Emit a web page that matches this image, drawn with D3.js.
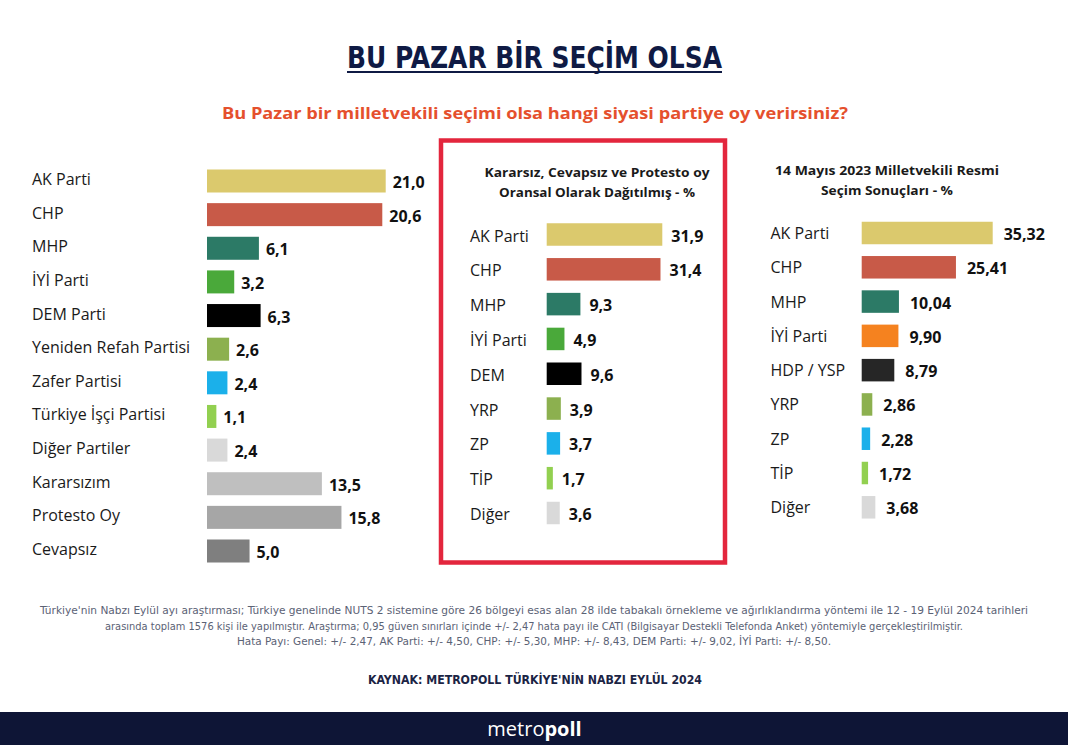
<!DOCTYPE html>
<html><head><meta charset="utf-8">
<script src="https://cdn.jsdelivr.net/npm/d3@7"></script>
<style>
html,body{margin:0;padding:0;background:#fff;}
svg{display:block;}
</style></head>
<body>
<script>
// ---------- DATA ----------
const leftCategories = ["AK Parti","CHP","MHP","İYİ Parti","DEM Parti","Yeniden Refah Partisi","Zafer Partisi","Türkiye İşçi Partisi","Diğer Partiler","Kararsızım","Protesto Oy","Cevapsız"];
const leftValues = [21.0,20.6,6.1,3.2,6.3,2.6,2.4,1.1,2.4,13.5,15.8,5.0];
const leftColors = ["#dbc96d","#c85a48","#2c7a66","#4aa93a","#000000","#8cb04f","#1bb0ea","#92d050","#d9d9d9","#bfbfbf","#a6a6a6","#7f7f7f"];

const midCategories = ["AK Parti","CHP","MHP","İYİ Parti","DEM","YRP","ZP","TİP","Diğer"];
const midValues = [31.9,31.4,9.3,4.9,9.6,3.9,3.7,1.7,3.6];
const midColors = ["#dbc96d","#c85a48","#2c7a66","#4aa93a","#000000","#8cb04f","#1bb0ea","#92d050","#d9d9d9"];

const rightCategories = ["AK Parti","CHP","MHP","İYİ Parti","HDP / YSP","YRP","ZP","TİP","Diğer"];
const rightValues = [35.32,25.41,10.04,9.90,8.79,2.86,2.28,1.72,3.68];
const rightColors = ["#dbc96d","#c85a48","#2c7a66","#f5821f","#262626","#8cb04f","#1bb0ea","#92d050","#d9d9d9"];

const mainTitle = "BU PAZAR BİR SEÇİM OLSA";
const subTitle = "Bu Pazar bir milletvekili seçimi olsa hangi siyasi partiye oy verirsiniz?";
const midTitle = ["Kararsız, Cevapsız ve Protesto oy","Oransal Olarak Dağıtılmış - %"];
const rightTitle = ["14 Mayıs 2023 Milletvekili Resmi","Seçim Sonuçları - %"];
const footLines = [
 "Türkiye'nin Nabzı Eylül ayı araştırması; Türkiye genelinde NUTS 2 sistemine göre 26 bölgeyi esas alan 28 ilde tabakalı örnekleme ve ağırlıklandırma yöntemi ile 12 - 19 Eylül 2024 tarihleri",
 "arasında toplam 1576 kişi ile yapılmıştır. Araştırma; 0,95 güven sınırları içinde +/- 2,47 hata payı ile CATI (Bilgisayar Destekli Telefonda Anket) yöntemiyle gerçekleştirilmiştir.",
 "Hata Payı: Genel: +/- 2,47, AK Parti: +/- 4,50, CHP: +/- 5,30, MHP: +/- 8,43, DEM Parti: +/- 9,02, İYİ Parti: +/- 8,50."
];
const sourceText = "KAYNAK: METROPOLL TÜRKİYE'NİN NABZI EYLÜL 2024";

// ---------- DRAW ----------
const W = 1068, H = 745;
const svg = d3.select("body").append("svg").attr("width", W).attr("height", H);
const FONT = "'Open Sans', 'Noto Sans', sans-serif";
const fmt = v => (Number.isInteger(v*10) && String(v).split(".")[1]?.length !== 2 ? v.toFixed(1) : v.toFixed(2)).replace(".", ",");

// Title
svg.append("text").attr("x", 534.5).attr("y", 68).attr("text-anchor","middle")
  .attr("font-family","'Liberation Sans Narrow','DejaVu Sans Condensed',sans-serif")
  .attr("font-weight","bold").attr("font-size",30).attr("fill","#0f1a44")
  .attr("textLength",375).attr("lengthAdjust","spacingAndGlyphs")
  .text(mainTitle);
svg.append("rect").attr("x",347).attr("y",71).attr("width",375).attr("height",2).attr("fill","#0f1a44");

// Subtitle
svg.append("text").attr("x", 535).attr("y", 119).attr("text-anchor","middle")
  .attr("font-family",FONT).attr("font-weight","bold").attr("font-size",16.5).attr("fill","#e5502d")
  .attr("textLength",626).attr("lengthAdjust","spacingAndGlyphs")
  .text(subTitle);

// Middle red frame
svg.append("rect").attr("x",441).attr("y",140.5).attr("width",284).attr("height",422)
  .attr("fill","none").attr("stroke","#e3263d").attr("stroke-width",4.5);

function panel(cfg){
  const g = svg.append("g");
  const x = d3.scaleLinear().domain([0, cfg.dmax]).range([cfg.x0, cfg.x1]);
  const y = d3.scalePoint().domain(cfg.cats).range([cfg.yTop, cfg.yBot]);
  const data = cfg.cats.map((c,i)=>({c, v:cfg.vals[i], col:cfg.cols[i]}));
  g.selectAll("text.lab").data(data).join("text").attr("class","lab")
    .attr("x", cfg.labX).attr("y", d=>y(d.c) + cfg.labDy)
    .attr("dominant-baseline","central")
    .attr("font-family",FONT).attr("font-size",16).attr("fill","#1a1a1a")
    .text(d=>d.c);
  g.selectAll("rect.bar").data(data).join("rect").attr("class","bar")
    .attr("x", x(0)).attr("y", d=>y(d.c)-cfg.bh/2)
    .attr("width", d=>x(d.v)-x(0)).attr("height", cfg.bh)
    .attr("fill", d=>d.col);
  g.selectAll("text.val").data(data).join("text").attr("class","val")
    .attr("x", d=>x(d.v)+cfg.gap).attr("y", d=>y(d.c)+1)
    .attr("dominant-baseline","central")
    .attr("font-family",FONT).attr("font-weight","bold").attr("font-size",16).attr("fill","#111")
    .text(d=>cfg.dec===2 ? d.v.toFixed(2).replace(".",",") : d.v.toFixed(1).replace(".",","));
  if (cfg.title){
    cfg.title.forEach((t,i)=>{
      svg.append("text").attr("x",cfg.tx).attr("y",cfg.ty+i*20).attr("text-anchor","middle")
        .attr("font-family",FONT).attr("font-weight","bold").attr("font-size",13).attr("fill","#1a1a1a")
        .attr("textLength",cfg.tw[i]).attr("lengthAdjust","spacingAndGlyphs")
        .text(t);
    });
  }
}

panel({cats:leftCategories, vals:leftValues, cols:leftColors, dmax:21, x0:207, x1:385.7,
  yTop:181, yBot:551, bh:23, labX:32, labDy:-2, gap:7, dec:1});
panel({cats:midCategories, vals:midValues, cols:midColors, dmax:31.9, x0:546.7, x1:662.3,
  yTop:234.5, yBot:513, bh:22.5, labX:470, labDy:1, gap:9, dec:1,
  title:midTitle, tx:597, ty:177, tw:[225,196]});
panel({cats:rightCategories, vals:rightValues, cols:rightColors, dmax:35.32, x0:861.7, x1:992.7,
  yTop:233, yBot:507.3, bh:22.5, labX:770.5, labDy:0, gap:11, dec:2,
  title:rightTitle, tx:887, ty:175, tw:[224,132]});

// Footnote
const footW = [988, 858, 594];
footLines.forEach((t,i)=>{
  svg.append("text").attr("x",534).attr("y",614+i*15.5).attr("text-anchor","middle")
    .attr("font-family","'Liberation Sans Narrow','DejaVu Sans Condensed',sans-serif")
    .attr("font-size",11).attr("fill","#5b6275")
    .attr("textLength",footW[i]).attr("lengthAdjust","spacingAndGlyphs")
    .text(t);
});
svg.append("text").attr("x",535).attr("y",684).attr("text-anchor","middle")
  .attr("font-family","'Liberation Sans Narrow','DejaVu Sans Condensed',sans-serif")
  .attr("font-weight","bold").attr("font-size",11.5).attr("fill","#1b2444")
  .attr("textLength",334).attr("lengthAdjust","spacingAndGlyphs")
  .text(sourceText);

// Bottom bar
svg.append("rect").attr("x",0).attr("y",712).attr("width",W).attr("height",33).attr("fill","#0e1536");
const logo = svg.append("text").attr("x",534.5).attr("y",736).attr("text-anchor","middle")
  .attr("font-family",FONT).attr("font-size",20).attr("fill","#fff");
logo.append("tspan").text("metro");
logo.append("tspan").attr("font-weight","bold").text("poll");
</script>
</body></html>
